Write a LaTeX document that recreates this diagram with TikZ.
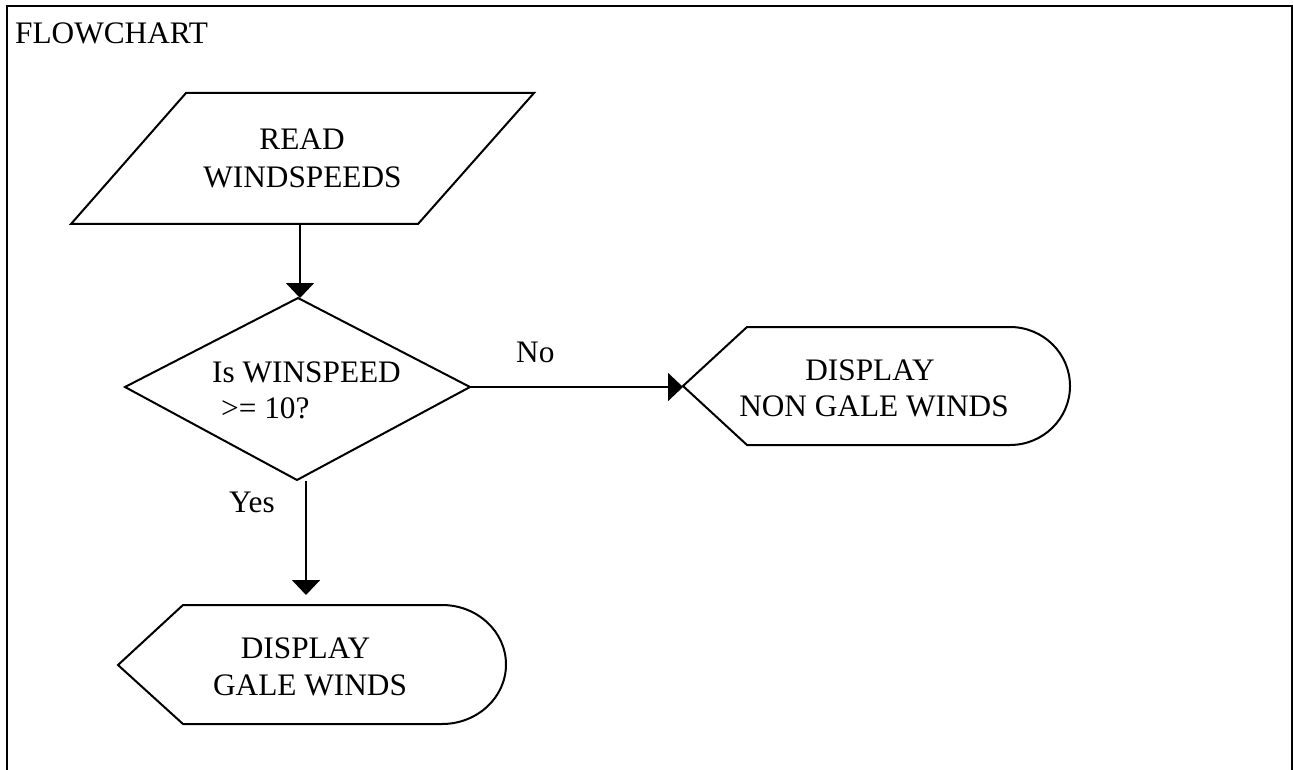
\documentclass[tikz,border=0pt]{standalone}
\usepackage{fontspec}
\setmainfont{Liberation Serif}
\usetikzlibrary{arrows.meta}
\begin{document}
\begin{tikzpicture}[x=1pt,y=-1pt,line join=miter,
  shapeline/.style={draw=black,line width=2pt},
  flowarrow/.style={draw=black,line width=2pt,-{Triangle[length=15pt,width=28pt]}},
  label/.style={inner sep=0pt,font=\fontsize{31.3}{37}\selectfont},
  ]
  \useasboundingbox (0,0) rectangle (1293,770);
  % outer frame, open at the bottom
  \draw[line width=2pt] (7,770) -- (7,6) -- (1292,6) -- (1292,770);
  \node[label,anchor=base west] (title) at (15,44) {FLOWCHART};

  % input: read windspeeds
  \draw[shapeline] (186,93) -- (534,93) -- (418,224) -- (71,224) -- cycle;
  \coordinate (read-out) at (300,224);
  \node[label,anchor=base] (readA) at (302,150) {READ};
  \node[label,anchor=base] (readB) at (302.5,188) {WINDSPEEDS};

  % decision
  \draw[shapeline] (298,298) -- (470,387) -- (297,480) -- (125,387) -- cycle;
  \coordinate (dec-top) at (300,298);
  \coordinate (dec-right) at (470,387);
  \coordinate (dec-bottom) at (306,481);
  \node[label,anchor=base west] (decA) at (212,382) {Is WINSPEED};
  \node[label,anchor=base west] (decB) at (221,418) {>= 10?};

  % display: non gale winds
  \draw[shapeline] (683,386) -- (747,327) -- (1010,327)
    arc[start angle=-90,end angle=90,x radius=60,y radius=59]
    -- (747,445) -- cycle;
  \coordinate (ng-in) at (683,387);
  \node[label,anchor=base] (ngA) at (870,380) {DISPLAY};
  \node[label,anchor=base] (ngB) at (874,416) {NON GALE WINDS};

  % display: gale winds
  \draw[shapeline] (118,665) -- (183,605) -- (442,605)
    arc[start angle=-90,end angle=90,x radius=64,y radius=59.5]
    -- (183,724) -- cycle;
  \coordinate (g-in) at (306,595);
  \node[label,anchor=base] (gA) at (305.5,658) {DISPLAY};
  \node[label,anchor=base] (gB) at (310,695) {GALE WINDS};

  % connectors
  \draw[flowarrow] (read-out) -- (dec-top);
  \draw[flowarrow] (dec-right) -- (ng-in);
  \draw[flowarrow] (dec-bottom) -- (g-in);
  \node[label,anchor=base west] (no) at (516,362) {No};
  \node[label,anchor=base west] (yes) at (229,512) {Yes};
\end{tikzpicture}
\end{document}
